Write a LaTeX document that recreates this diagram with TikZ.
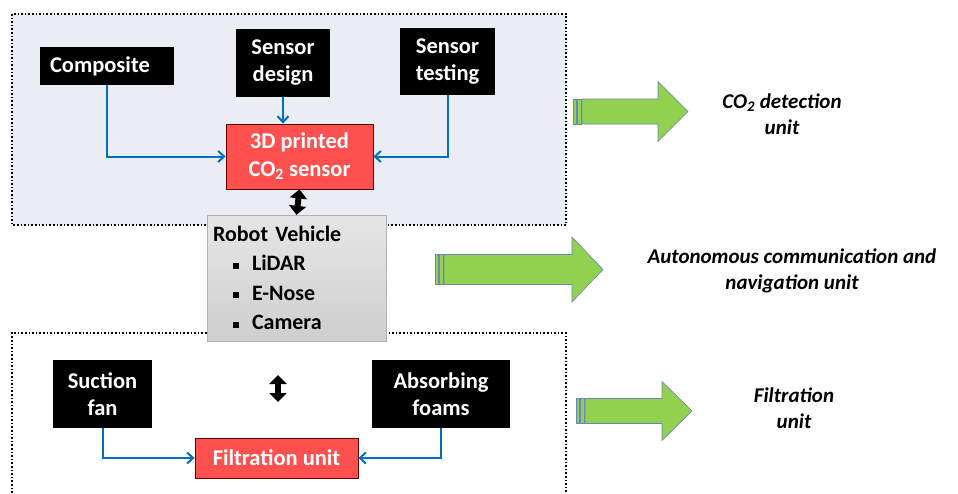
\documentclass[tikz,border=0pt]{standalone}
\usepackage{fontspec}
\setmainfont{Carlito}
\usetikzlibrary{arrows.meta}
\definecolor{zonebg}{HTML}{EAEEF4}
\definecolor{linkblue}{HTML}{0070C0}
\definecolor{sensred}{HTML}{FF5050}
\definecolor{arrgreen}{HTML}{92D050}
\definecolor{arredge}{HTML}{6A85B8}
\newcommand{\sqbul}{\rule[2pt]{6pt}{6pt}}

\begin{document}
\begin{tikzpicture}[x=1pt,y=-1pt,
  blk/.style={fill=black, text=white, align=center, inner sep=0pt,
    font=\bfseries\fontsize{22.5}{27}\selectfont},
  redbox/.style={fill=sensred, draw=red!40!black, line width=0.8pt, text=white,
    align=center, inner sep=0pt, font=\bfseries\fontsize{22.5}{28}\selectfont},
  link/.style={draw=linkblue, line width=2pt,
    -{Straight Barb[length=6pt,width=11pt]}},
  both/.style={line width=6pt,
    {Triangle[length=9pt,width=17pt]}-{Triangle[length=9pt,width=17pt]}},
  zone/.style={dotted, line width=1.6pt},
  unitlab/.style={align=center, font=\bfseries\itshape\fontsize{21}{26}\selectfont}]

  \useasboundingbox (0,0) rectangle (958,493);

  % dotted zones
  \draw[zone, fill=zonebg] (12,14) rectangle (566,225);
  \draw[zone] (12,500) -- (12,333) -- (566,333) -- (566,500);

  % CO2 detection unit
  \node[blk, minimum width=134pt, minimum height=38pt, text width=114pt,
    align=left] (comp) at (107,66) {Composite};
  \node[blk, minimum width=94pt, minimum height=68pt] (sdes) at (283,63)
    {Sensor\\design};
  \node[blk, minimum width=95pt, minimum height=67pt] (stest) at (447.5,61.5)
    {Sensor\\testing};
  \node[redbox, minimum width=147pt, minimum height=65pt] (sens) at (299.5,156.5)
    {3D printed\\CO\textsubscript{2} sensor};

  \draw[link] (comp.south) |- (sens.west);
  \draw[link] (sdes.south) -- (sdes.south |- sens.north);
  \draw[link] (stest.south) |- (sens.east);

  % robot
  \node[draw=gray!60, top color=gray!20, bottom color=gray!38,
    minimum width=179pt, minimum height=126pt, text width=167pt,
    align=left, inner sep=0pt, font=\bfseries\fontsize{22}{29.5}\selectfont]
    (robot) at (296.5,278)
    {Robot Vehicle\\
     \hspace*{20pt}\sqbul\hspace{13pt}LiDAR\\
     \hspace*{20pt}\sqbul\hspace{13pt}E-Nose\\
     \hspace*{20pt}\sqbul\hspace{13pt}Camera};

  \draw[both] (sens.south) -- (robot.north);

  % filtration unit
  \node[blk, minimum width=99pt, minimum height=68pt] (suct) at (102.5,394)
    {Suction\\fan};
  \node[blk, minimum width=138pt, minimum height=68pt] (absorb) at (441,394)
    {Absorbing\\foams};
  \node[redbox, minimum width=163pt, minimum height=40pt] (filt) at (276.5,458)
    {Filtration unit};

  \coordinate (ltop) at (278,375);
  \coordinate (lbot) at (278,402);
  \draw[both] (ltop) -- (lbot);

  \draw[link] (suct.south) |- (filt.west);
  \draw[link] (absorb.south) |- (filt.east);

  % striped green arrows
  \foreach \lx/\hx/\tx/\cy/\sh/\hh in {573/658/688/111.5/12.5/30,
      435/572/603/269.5/15/32.5, 576/662/692/411/12.5/29.5} {
    \draw[arredge, fill=arrgreen, line width=0.6pt]
      (\lx,\cy-\sh) rectangle (\lx+3,\cy+\sh);
    \draw[arredge, fill=arrgreen, line width=0.6pt]
      (\lx+4,\cy-\sh) rectangle (\lx+8,\cy+\sh);
    \draw[arredge, fill=arrgreen, line width=0.6pt]
      (\lx+9,\cy-\sh) -- (\hx,\cy-\sh) -- (\hx,\cy-\hh) -- (\tx,\cy)
      -- (\hx,\cy+\hh) -- (\hx,\cy+\sh) -- (\lx+9,\cy+\sh) -- cycle;
  }

  \node[unitlab] (lab1) at (782,114) {CO\textsubscript{2} detection\\unit};
  \node[unitlab] (lab2) at (792,271) {Autonomous communication and\\navigation unit};
  \node[unitlab] (lab3) at (794,408) {Filtration\\unit};

\end{tikzpicture}
\end{document}
